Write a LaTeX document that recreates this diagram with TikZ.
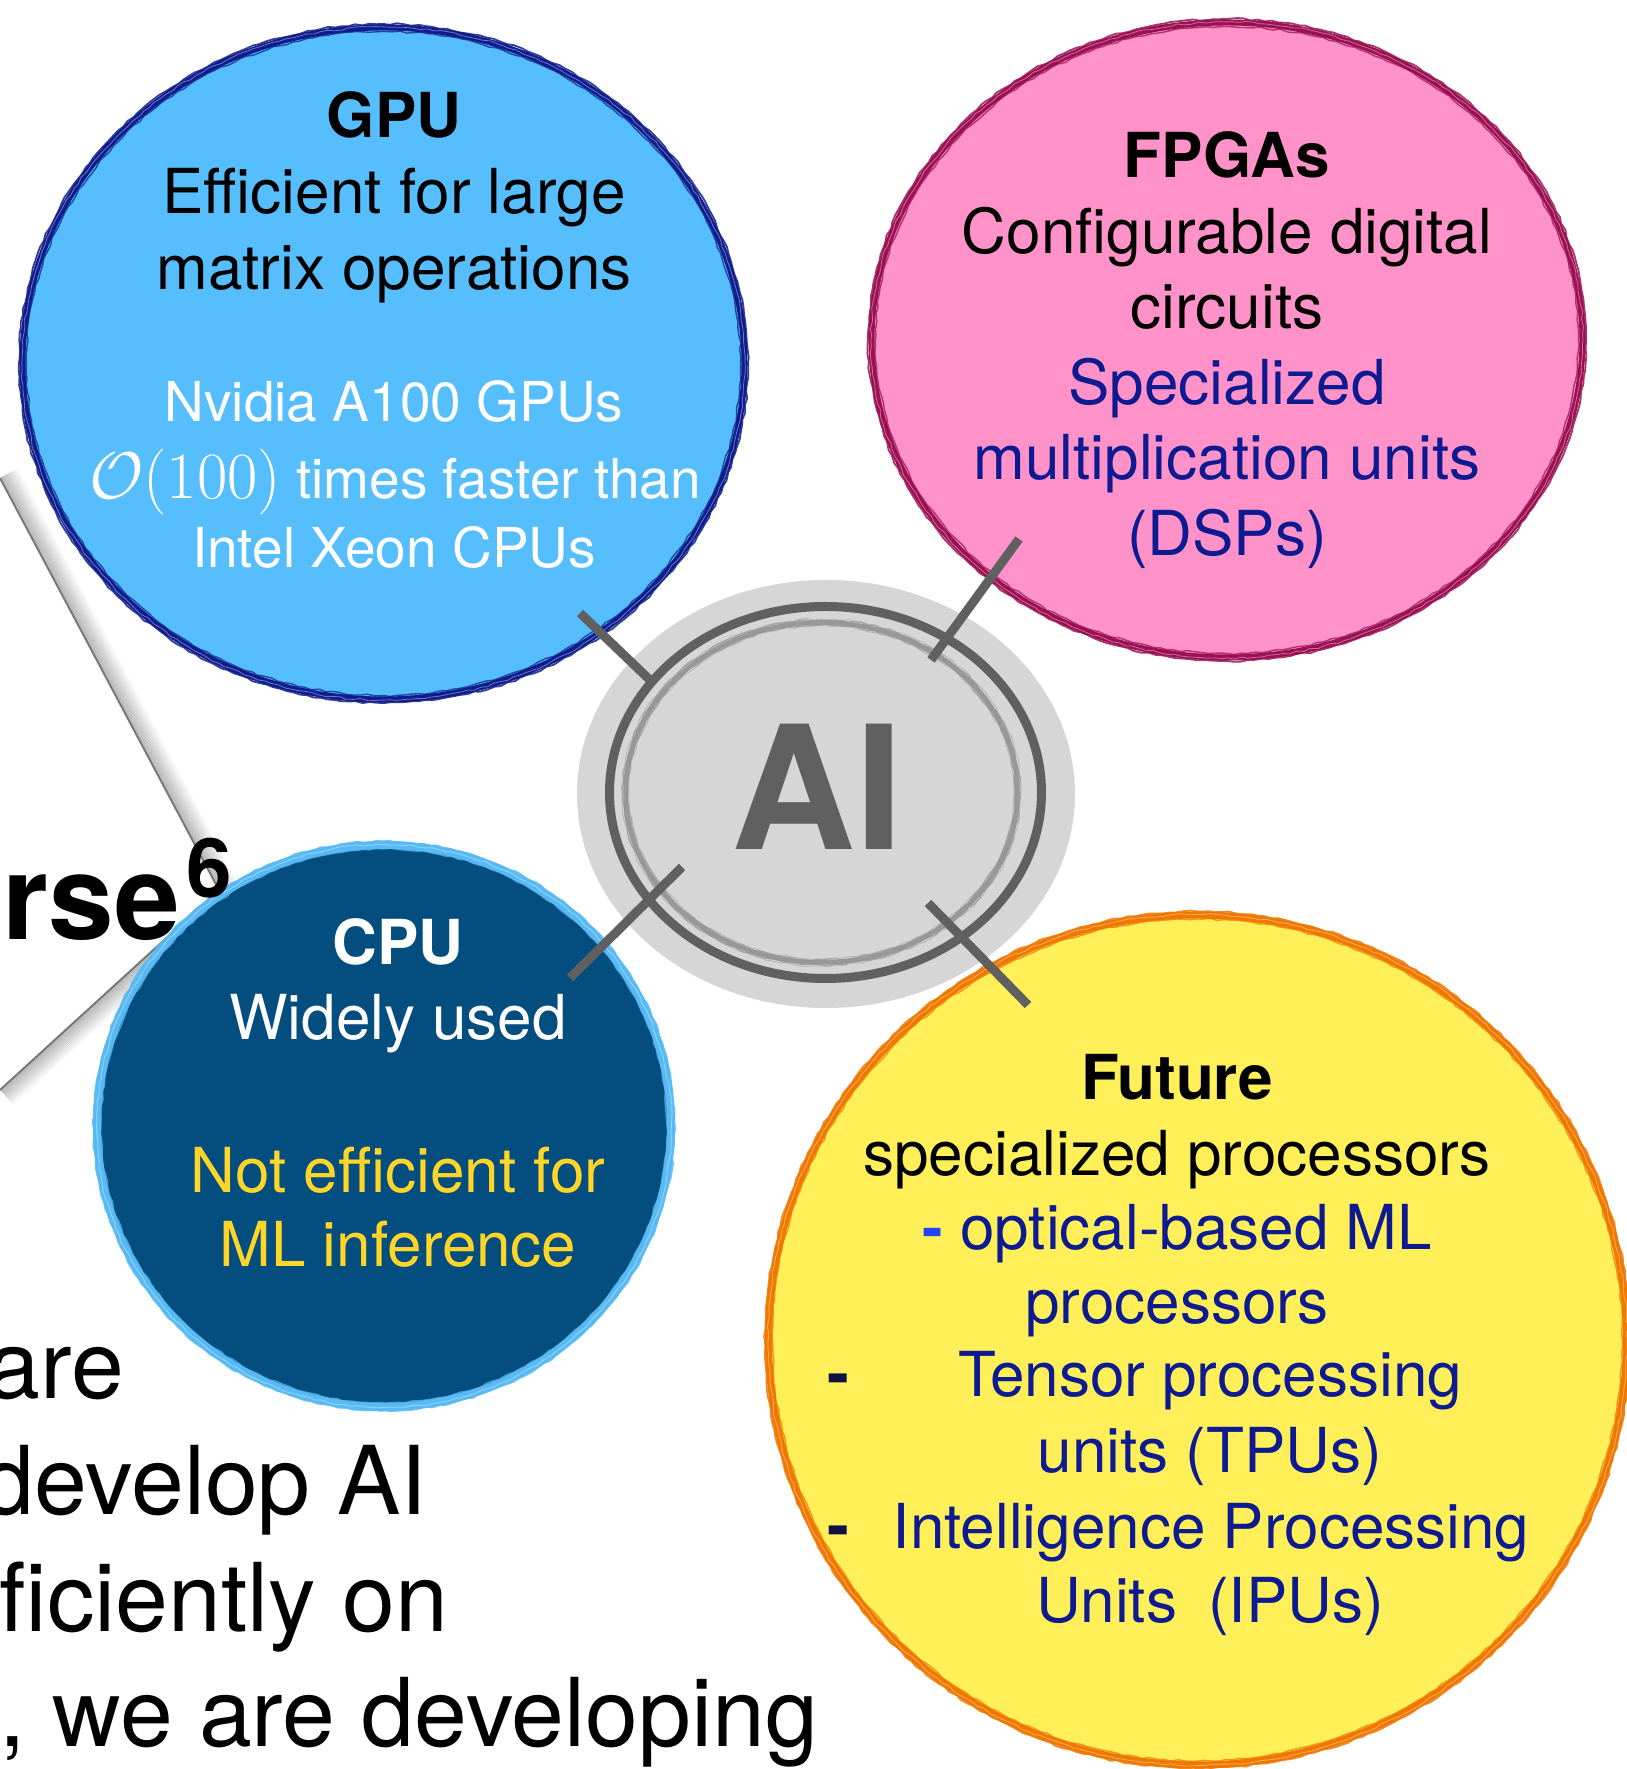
\documentclass[tikz,border=0pt]{standalone}
\usepackage{fix-cm}
\usepackage[no-math]{fontspec}
\setmainfont{TeX Gyre Heros}
\usetikzlibrary{shapes.geometric, decorations.pathmorphing, calc}

\definecolor{gpufill}{RGB}{87,190,254}
\definecolor{gpuline}{RGB}{14,28,140}
\definecolor{fpgafill}{RGB}{255,146,200}
\definecolor{fpgaline}{RGB}{154,16,82}
\definecolor{cpufill}{RGB}{3,78,127}
\definecolor{cpuline}{RGB}{88,186,245}
\definecolor{futfill}{RGB}{255,240,90}
\definecolor{futline}{RGB}{240,120,0}
\definecolor{navytext}{RGB}{14,26,143}
\definecolor{dashblue}{RGB}{30,70,255}
\definecolor{dashdark}{RGB}{16,18,70}
\definecolor{cpuyellow}{RGB}{255,214,40}
\definecolor{aifill}{RGB}{214,214,214}
\definecolor{aiink}{RGB}{96,96,96}
\definecolor{aisketch}{RGB}{146,146,146}
\definecolor{calloutline}{RGB}{120,120,120}

\newcommand\setfs[1]{\fontsize{#1}{#1}\selectfont}

% hand-drawn looking rim around a bubble
\newcommand\brushrim[4]{%
  \draw[#2, line width=1.8pt, sketch, opacity=0.85] (#1.center) ellipse [x radius={#3+3.5}, y radius={#4+3.5}];
  \draw[white, line width=0.8pt, sketch, opacity=0.4] (#1.center) ellipse [x radius={#3+0.5}, y radius={#4+0.5}];
  \draw[#2, line width=1.4pt, sketch, opacity=0.75] (#1.center) ellipse [x radius={#3-4}, y radius={#4-4}];
}

\begin{document}
\begin{tikzpicture}[x=1pt,y=1pt,
  bubble/.style={ellipse, inner sep=0pt, outer sep=0pt},
  ln/.style={anchor=base, inner sep=0pt, outer sep=0pt},
  body/.style={ln, font=\setfs{62}},
  small/.style={ln, font=\setfs{55}},
  head/.style={ln, font=\setfs{62}\bfseries},
  slide/.style={ln, anchor=base east, font=\setfs{95}},
  stub/.style={draw=aiink, line width=9pt},
  sketch/.style={decorate, decoration={random steps, segment length=7pt, amplitude=1pt}},
]
\pgfmathsetseed{7}
\useasboundingbox (0,0) rectangle (1626,1769);
\fill[white] (0,0) rectangle (1626,1769);

% ---- callout edges of the slide behind the bubbles ----
\coordinate (callout-apex) at (219,879);
\coordinate (callout-top) at (0,1291);
\coordinate (callout-low) at (0,679);
\foreach \i in {1,...,14}{
  \pgfmathsetmacro\op{0.24*(1-\i/15)}
  \draw[black, opacity=\op, line width=1.6pt]
    ($(callout-top)+({\i*1.4*0.883},{\i*1.4*0.469})$) -- ($(callout-apex)+({\i*1.4*0.883},{\i*1.4*0.469})$);
  \draw[black, opacity=\op, line width=1.6pt]
    ($(callout-low)+({\i*1.4*0.674},{-\i*1.4*0.738})$) -- ($(callout-apex)+({\i*1.4*0.674},{-\i*1.4*0.738})$);
}
\draw[calloutline, line width=2pt] (callout-top) -- (callout-apex) -- (callout-low);

% ---- slide body text ----
\node[slide] (slide-l1) at (124,370) {are};
\node[slide] (slide-l2) at (427,254) {develop AI};
\node[slide] (slide-l3) at (448,137) {ficiently on};
\node[slide] (slide-l4) at (818,22) {, we are developing};

% ---- central AI badge ----
\node[bubble, fill=aifill, minimum width=498pt, minimum height=428pt] (ai) at (826,975) {};
\node[bubble, draw=aiink, line width=9pt, minimum width=432pt, minimum height=372pt] (ring) at (825.5,976.5) {};
\draw[aisketch, line width=4.5pt, opacity=0.9]
  ($(ring.center)+(-4,0)$) ellipse [x radius=196, y radius=170];
\foreach \d/\w/\o in {2.5/1.2/0.7, -2.5/1.2/0.7, 3.5/0.8/0.5, -3.5/0.8/0.5}{
  \draw[aisketch, line width=\w pt, opacity=\o, sketch]
    ($(ring.center)+(-4,0)$) ellipse [x radius={196+\d}, y radius={170+\d}];
}
\node[ln, font=\setfs{172}\bfseries, text=aiink] (ai-label) at (817,919) {AI};

% ---- technology bubbles ----
\node[bubble, fill=gpufill, draw=gpuline, line width=6pt, minimum width=722pt, minimum height=672pt] (gpu) at (383.5,1405.5) {};
\brushrim{gpu}{gpuline}{361}{336}
\node[bubble, fill=fpgafill, draw=fpgaline, line width=6pt, minimum width=711pt, minimum height=635pt] (fpga) at (1227,1429) {};
\brushrim{fpga}{fpgaline}{355.5}{317.5}
\node[bubble, fill=cpufill, draw=cpuline, line width=8pt, minimum width=574pt, minimum height=562pt] (cpu) at (384,643) {};
\brushrim{cpu}{cpuline}{287}{281}
\node[bubble, fill=futfill, draw=futline, line width=7pt, minimum width=858pt, minimum height=850pt] (future) at (1197.5,429) {};
\brushrim{future}{futline}{429}{425}

% ---- stubs joining the bubbles to the AI badge ----
\coordinate (gpu-tap) at (580,1156);   \coordinate (gpu-foot) at (651,1088);
\coordinate (fpga-tap) at (1019,1230); \coordinate (fpga-foot) at (931,1109);
\coordinate (cpu-tap) at (570,791);    \coordinate (cpu-foot) at (682,902);
\coordinate (fut-tap) at (1028,764);   \coordinate (fut-foot) at (928,866);
\draw[stub] (gpu-tap) -- (gpu-foot);
\draw[stub] (fpga-tap) -- (fpga-foot);
\draw[stub] (cpu-tap) -- (cpu-foot);
\draw[stub] (fut-tap) -- (fut-foot);

% ---- GPU text ----
\node[head] (gpu-title) at (394,1631) {GPU};
\node[body] (gpu-l1) at (394,1555) {Efficient for large};
\node[body] (gpu-l2) at (394,1479) {matrix operations};
\node[small, text=white] (gpu-l3) at (394,1347) {Nvidia A100 GPUs};
\node[small, text=white] (gpu-l4) at (395,1270) {{\setfs{66}$\mathcal{O}(100)$} times faster than};
\node[small, text=white] (gpu-l5) at (394,1201) {Intel Xeon CPUs};

% ---- FPGA text ----
\node[head] (fpga-title) at (1227,1591) {FPGAs};
\node[body] (fpga-l1) at (1227,1515) {Configurable digital};
\node[body] (fpga-l2) at (1227,1440) {circuits};
\node[body, text=navytext] (fpga-l3) at (1227,1364) {Specialized};
\node[body, text=navytext] (fpga-l4) at (1227,1289) {multiplication units};
\node[body, text=navytext] (fpga-l5) at (1227,1213) {(DSPs)};

% ---- CPU text ----
\node[head, text=white] (cpu-title) at (398,804) {CPU};
\node[body, text=white] (cpu-l1) at (398,729) {Widely used};
\node[body, text=cpuyellow] (cpu-l2) at (398,576) {Not efficient for};
\node[body, text=cpuyellow] (cpu-l3) at (398,502) {ML inference};

% ---- future processors text ----
\node[head] (fut-title) at (1177,669) {Future};
\node[body] (fut-l1) at (1177,593) {specialized processors};
\node[body, text=navytext] (fut-l2) at (1177,519) {{\color{dashblue}\bfseries -} optical-based ML};
\node[body, text=navytext] (fut-l3) at (1177,445) {processors};
\node[body, font=\setfs{66}\bfseries, text=dashdark] (fut-dash1) at (838,372) {-};
\node[body, text=navytext] (fut-l4) at (1210,372) {Tensor processing};
\node[body, text=navytext] (fut-l5) at (1210,296) {units (TPUs)};
\node[body, font=\setfs{66}\bfseries, text=dashdark] (fut-dash2) at (838,220) {-};
\node[body, text=navytext] (fut-l6) at (1211,220) {Intelligence Processing};
\node[body, text=navytext] (fut-l7) at (1210,146) {Units\hspace{0.5em}(IPUs)};

% ---- slide heading fragment ----
\node[ln, anchor=base west, font=\setfs{118}\bfseries] (slide-word) at (2,829) {rse};
\node[ln, anchor=base west, font=\setfs{82}\bfseries] (slide-sup) at (186,871) {6};
\end{tikzpicture}
\end{document}
